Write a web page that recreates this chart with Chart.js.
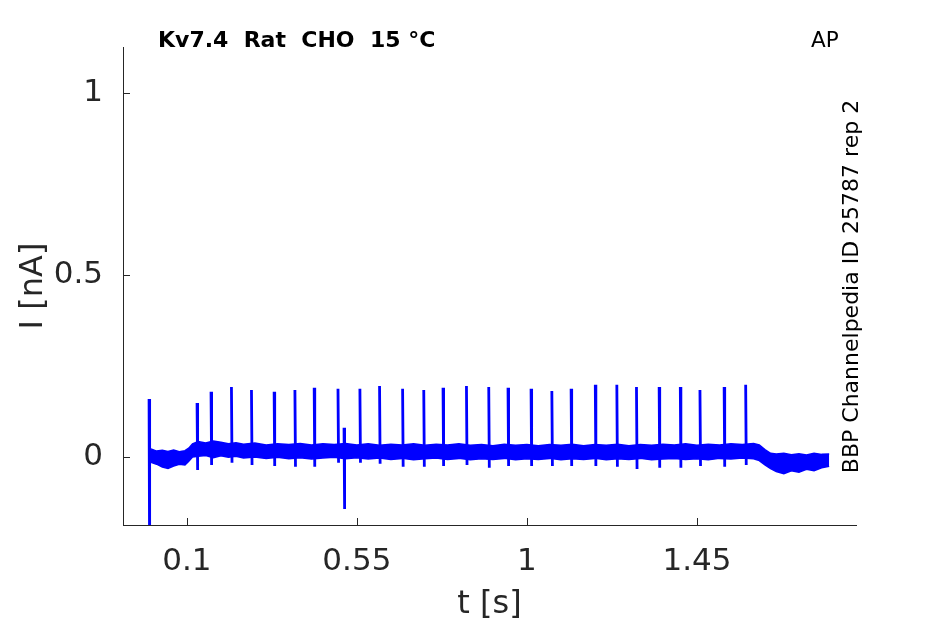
<!DOCTYPE html>
<html>
<head>
<meta charset="utf-8">
<script src="https://cdn.jsdelivr.net/npm/chart.js@4/dist/chart.umd.min.js"></script>
<style>
  html, body { margin: 0; padding: 0; background: #fff; }
  #wrap { width: 945px; height: 624px; }
</style>
</head>
<body>
<div id="wrap"><canvas id="c"></canvas></div>
<script>
// tick positions and labels
const xTicks = [0.1, 0.55, 1, 1.45]
const yTicks = [0, 0.5, 1]

// noisy baseline, upper / lower edge of the band (nA), estimated by eye
const envT = [0.005, 0.02, 0.035, 0.05, 0.065, 0.08, 0.095, 0.105, 0.115, 0.13,
  0.15, 0.17, 0.19, 0.21, 0.23, 0.25, 0.28, 0.31, 0.34, 0.37,
  0.40, 0.43, 0.46, 0.49, 0.52, 0.55, 0.58, 0.61, 0.64, 0.67,
  0.70, 0.73, 0.76, 0.79, 0.82, 0.85, 0.88, 0.91, 0.94, 0.97,
  1.00, 1.03, 1.06, 1.09, 1.12, 1.15, 1.18, 1.21, 1.24, 1.27,
  1.30, 1.33, 1.36, 1.39, 1.42, 1.45, 1.48, 1.51, 1.54, 1.57,
  1.60, 1.615, 1.63, 1.645, 1.66, 1.68, 1.70, 1.72, 1.74, 1.76,
  1.78, 1.80]
const envHi = [0.022, 0.016, 0.018, 0.015, 0.019, 0.014, 0.017, 0.024, 0.036, 0.042,
  0.038, 0.044, 0.040, 0.036, 0.039, 0.035, 0.038, 0.033, 0.036, 0.034,
  0.037, 0.033, 0.036, 0.034, 0.037, 0.033, 0.036, 0.032, 0.035, 0.033,
  0.036, 0.032, 0.035, 0.033, 0.036, 0.032, 0.034, 0.031, 0.035, 0.032,
  0.034, 0.031, 0.034, 0.032, 0.035, 0.031, 0.034, 0.032, 0.035, 0.031,
  0.034, 0.032, 0.035, 0.033, 0.036, 0.032, 0.035, 0.033, 0.036, 0.034,
  0.037, 0.033, 0.020, 0.010, 0.008, 0.010, 0.006, 0.009, 0.005, 0.010,
  0.007, 0.008]
const envLo = [-0.015, -0.020, -0.028, -0.032, -0.025, -0.020, -0.022, -0.012, 0.000, 0.002,
  0.004, -0.002, 0.003, -0.001, 0.002, -0.003, 0.000, -0.004, -0.001, -0.005,
  -0.002, -0.006, -0.003, -0.001, -0.005, -0.002, -0.006, -0.003, -0.007, -0.004,
  -0.008, -0.005, -0.003, -0.007, -0.004, -0.008, -0.005, -0.007, -0.004, -0.008,
  -0.005, -0.007, -0.004, -0.008, -0.005, -0.007, -0.004, -0.008, -0.005, -0.007,
  -0.004, -0.008, -0.006, -0.004, -0.007, -0.005, -0.008, -0.004, -0.006, -0.003,
  -0.005, -0.010, -0.022, -0.032, -0.040, -0.046, -0.038, -0.042, -0.034, -0.038,
  -0.030, -0.026]

// spikes: time (s), peak and trough (nA); first one is the stimulus artifact
const spikeT = [0.000, 0.127, 0.164, 0.218, 0.271, 0.331, 0.386, 0.437, 0.500, 0.516,
  0.558, 0.610, 0.671, 0.727, 0.778, 0.840, 0.899, 0.950, 1.011, 1.066,
  1.117, 1.181, 1.238, 1.290, 1.350, 1.406, 1.458, 1.522, 1.579]
const spikePeak = [0.159, 0.148, 0.179, 0.192, 0.184, 0.179, 0.184, 0.190, 0.187, 0.080,
  0.187, 0.195, 0.187, 0.184, 0.190, 0.195, 0.192, 0.190, 0.187, 0.181,
  0.187, 0.198, 0.198, 0.192, 0.192, 0.192, 0.184, 0.192, 0.198]
const spikeTrough = [-0.30, -0.036, -0.022, -0.016, -0.022, -0.025, -0.027, -0.027, -0.016, -0.143,
  -0.016, -0.019, -0.027, -0.027, -0.025, -0.022, -0.030, -0.025, -0.025, -0.025,
  -0.025, -0.025, -0.027, -0.033, -0.030, -0.030, -0.025, -0.027, -0.022]

const BLUE = "#0000ff"
const AXIS = "#262626"
const FONT = "'DejaVu Sans', sans-serif"

const spikePoints = []
spikeT.forEach((t, i) => {
  spikePoints.push({ x: t, y: spikePeak[i] })
  spikePoints.push({ x: t + 0.0015, y: spikeTrough[i] })
  spikePoints.push({ x: t + 0.0015, y: null })
})

// inward tick marks (MATLAB style) and the loose annotations
const decor = {
  id: "decor",
  afterDraw(chart) {
    const { ctx, chartArea: a, scales: { x, y } } = chart
    ctx.save()
    ctx.strokeStyle = AXIS
    ctx.lineWidth = 1
    ctx.beginPath()
    for (const v of xTicks) {
      const px = Math.round(x.getPixelForValue(v)) + 0.5
      ctx.moveTo(px, a.bottom); ctx.lineTo(px, a.bottom - 7)
    }
    for (const v of yTicks) {
      const py = Math.round(y.getPixelForValue(v)) + 0.5
      ctx.moveTo(a.left, py); ctx.lineTo(a.left + 7, py)
    }
    ctx.stroke()

    ctx.fillStyle = "#000"
    ctx.textBaseline = "alphabetic"
    ctx.textAlign = "left"
    ctx.font = "bold 22px " + FONT
    ctx.fillText("Kv7.4  Rat  CHO  15 °C", 158, 47)
    ctx.font = "21.5px " + FONT
    ctx.fillText("AP", 811, 47)

    ctx.font = "22px " + FONT
    ctx.translate(858, 286.5)
    ctx.rotate(-Math.PI / 2)
    ctx.textAlign = "center"
    ctx.fillText("BBP Channelpedia ID 25787 rep 2", 0, 0)
    ctx.restore()
  },
}

new Chart(document.getElementById("c"), {
  type: "line",
  data: {
    datasets: [
      {
        label: "hi",
        data: envT.map((t, i) => ({ x: t, y: envHi[i] })),
        borderColor: BLUE, borderWidth: 1.5, pointRadius: 0, tension: 0,
        fill: false,
      },
      {
        label: "lo",
        data: envT.map((t, i) => ({ x: t, y: envLo[i] })),
        borderColor: BLUE, borderWidth: 1.5, pointRadius: 0, tension: 0,
        backgroundColor: BLUE, fill: "-1",
      },
      {
        label: "spikes",
        data: spikePoints,
        borderColor: BLUE, borderWidth: 2.8, pointRadius: 0, tension: 0,
        spanGaps: false, fill: false,
      },
    ],
  },
  options: {
    responsive: true,
    maintainAspectRatio: false,
    animation: false,
    devicePixelRatio: 1,
    layout: { padding: { top: 47, right: 89, left: 0, bottom: 0 } },
    plugins: { legend: { display: false }, tooltip: { enabled: false } },
    scales: {
      x: {
        type: "linear",
        min: -0.069, max: 1.871,
        afterBuildTicks: (s) => { s.ticks = xTicks.map(v => ({ value: v })) },
        afterFit: (s) => { s.height = 99 },
        grid: { drawOnChartArea: false, drawTicks: false },
        border: { color: AXIS, width: 1 },
        ticks: {
          color: AXIS, padding: 18, maxRotation: 0, autoSkip: false,
          font: { family: FONT, size: 31 },
          callback: (v) => String(v),
        },
        title: {
          display: true, text: "t [s]", color: AXIS,
          font: { family: FONT, size: 32 }, padding: { top: 0, bottom: 0 },
        },
      },
      y: {
        type: "linear",
        min: -0.187, max: 1.126,
        afterBuildTicks: (s) => { s.ticks = yTicks.map(v => ({ value: v })) },
        afterFit: (s) => { s.width = 123 },
        grid: { drawOnChartArea: false, drawTicks: false },
        border: { color: AXIS, width: 1 },
        ticks: {
          color: AXIS, padding: 20, autoSkip: false,
          font: { family: FONT, size: 31 },
          callback: (v) => String(v),
        },
        title: {
          display: true, text: "I [nA]", color: AXIS,
          font: { family: FONT, size: 32 }, padding: { top: 14, bottom: 0 },
        },
      },
    },
  },
  plugins: [decor],
})
</script>
</body>
</html>
